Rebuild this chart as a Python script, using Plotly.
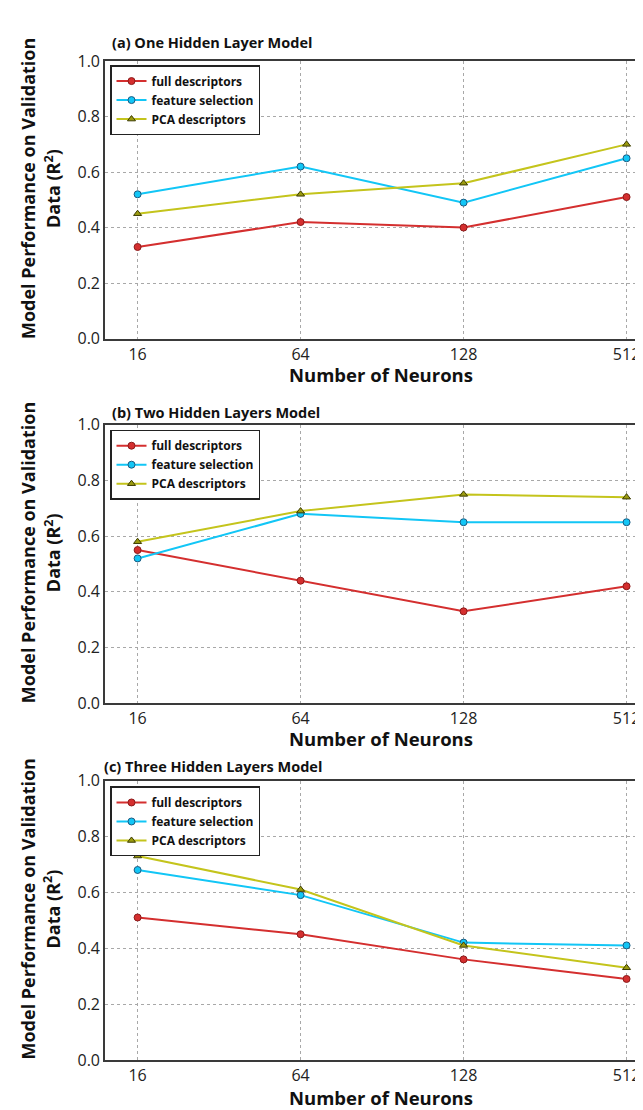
import plotly.graph_objects as go

neurons = ["16", "64", "128", "512"]
series_names = ["full descriptors", "feature selection", "PCA descriptors"]
panel_titles = ["(a) One Hidden Layer Model", "(b) Two Hidden Layers Model", "(c) Three Hidden Layers Model"]

one_full = [0.33, 0.42, 0.40, 0.51]
one_feat = [0.52, 0.62, 0.49, 0.65]
one_pca = [0.45, 0.52, 0.56, 0.70]

two_full = [0.55, 0.44, 0.33, 0.42]
two_feat = [0.52, 0.68, 0.65, 0.65]
two_pca = [0.58, 0.69, 0.75, 0.74]

three_full = [0.51, 0.45, 0.36, 0.29]
three_feat = [0.68, 0.59, 0.42, 0.41]
three_pca = [0.73, 0.61, 0.41, 0.33]

yticks = [0.0, 0.2, 0.4, 0.6, 0.8, 1.0]
ytick_text = ["0.0", "0.2", "0.4", "0.6", "0.8", "1.0"]

panels = [
    (one_full, one_feat, one_pca),
    (two_full, two_feat, two_pca),
    (three_full, three_feat, three_pca),
]

W, H = 643, 1110
# plot areas in pixels (top, bottom)
areas = [(43, 326), (414, 698), (777, 1062)]
title_y = [24, 401, 763]
title_x = [102, 102, 94]
xlabel_y = [363, 734, 1100]
legend_top = [47, 419, 783]
x_left = 97

styles = [
    dict(line=dict(color="#d42f2f", width=2),
         marker=dict(symbol="circle", size=7, color="#d42f2f", line=dict(color="#8c1a1a", width=1))),
    dict(line=dict(color="#12c6f6", width=2),
         marker=dict(symbol="circle", size=7, color="#12c6f6", line=dict(color="#1d5a80", width=1))),
    dict(line=dict(color="#c4c41c", width=2),
         marker=dict(symbol="triangle-up", size=7, color="#9a9a10", line=dict(color="#3c3c00", width=1))),
]

fig = go.Figure()
font_family = "Open Sans"

for i, data in enumerate(panels):
    xa = "x" if i == 0 else f"x{i+1}"
    ya = "y" if i == 0 else f"y{i+1}"
    lg = "legend" if i == 0 else f"legend{i+1}"
    for j, vals in enumerate(data):
        fig.add_trace(go.Scatter(
            x=neurons, y=vals, name=series_names[j], mode="lines+markers",
            xaxis=xa, yaxis=ya, legend=lg, **styles[j]))
    top, bot = areas[i]
    ydom = [1 - bot / H, 1 - top / H]
    xkey = "xaxis" if i == 0 else f"xaxis{i+1}"
    ykey = "yaxis" if i == 0 else f"yaxis{i+1}"
    fig.layout[xkey] = dict(
        domain=[x_left / W, 1], anchor=ya, type="category",
        range=[-0.2, 3.15], showline=True, mirror=True, linecolor="#3a3a3a", linewidth=1.6,
        showgrid=True, gridcolor="#a8a8a8", griddash="dot", gridwidth=1,
        ticks="", tickfont=dict(family=font_family, size=16, color="#222222"),
        zeroline=False,
    )
    fig.layout[ykey] = dict(
        domain=ydom, anchor=xa, range=[0, 1], showline=True, mirror=False,
        linecolor="#3a3a3a", linewidth=1.6,
        tickvals=yticks, ticktext=ytick_text,
        showgrid=True, gridcolor="#a8a8a8", griddash="dot", gridwidth=1,
        ticks="", tickfont=dict(family=font_family, size=16, color="#222222"),
        zeroline=False,
    )
    fig.layout[lg] = dict(
        x=102 / W, y=1 - legend_top[i] / H, xanchor="left", yanchor="top",
        bgcolor="white", bordercolor="#222222", borderwidth=1.5,
        font=dict(family=font_family, size=12, color="#111111", weight="bold"),
        tracegroupgap=0, itemwidth=30,
    )
    # panel title
    fig.add_annotation(text=panel_titles[i], x=title_x[i] / W, y=1 - title_y[i] / H,
                       xref="paper", yref="paper", xanchor="left", yanchor="middle",
                       showarrow=False,
                       font=dict(family=font_family, size=14.5, color="#111111", weight="bold"))
    # x axis title
    fig.add_annotation(text="Number of Neurons", x=373 / W, y=1 - xlabel_y[i] / H,
                       xref="paper", yref="paper", xanchor="center", yanchor="middle",
                       showarrow=False,
                       font=dict(family=font_family, size=18.5, color="#111111", weight="bold"))
    # y axis title (two lines)
    yc = (top + bot) / 2 - 11
    fig.add_annotation(text="Model Performance on Validation", x=20 / W, y=1 - yc / H,
                       xref="paper", yref="paper", xanchor="center", yanchor="middle",
                       textangle=-90, showarrow=False,
                       font=dict(family=font_family, size=18, color="#111111", weight="bold"))
    fig.add_annotation(text="Data (R<sup>2</sup>)", x=45 / W, y=1 - yc / H,
                       xref="paper", yref="paper", xanchor="center", yanchor="middle",
                       textangle=-90, showarrow=False,
                       font=dict(family=font_family, size=18, color="#111111", weight="bold"))

fig.update_layout(
    width=W, height=H, margin=dict(l=0, r=0, t=0, b=0),
    paper_bgcolor="white", plot_bgcolor="white", showlegend=True,
)

fig.write_html("out.html")
